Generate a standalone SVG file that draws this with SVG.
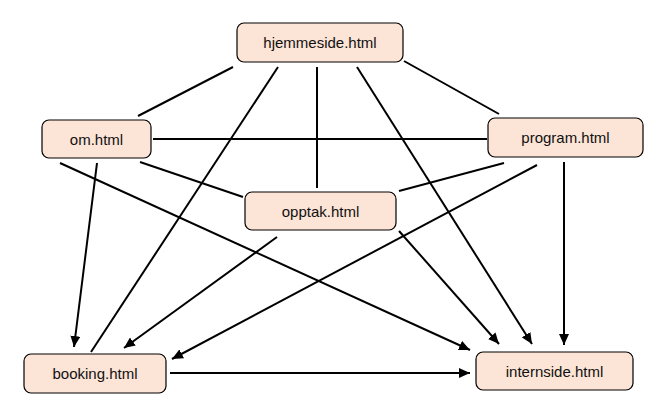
<svg xmlns="http://www.w3.org/2000/svg" width="657" height="412" viewBox="0 0 657 412">
<defs>
<marker id="arr" markerUnits="userSpaceOnUse" markerWidth="12" markerHeight="10" refX="11" refY="5" orient="auto">
<path d="M0,0 L11,5 L0,10 Z" fill="#000"/>
</marker>
<style>
.n rect{fill:#FCE4D6;stroke:#000;stroke-width:1.2}
.n text{font-family:"Liberation Sans",Arial,sans-serif;font-size:15px;fill:#111;text-anchor:middle}
#edges line{stroke:#000;stroke-width:2}
#edges line.a{marker-end:url(#arr)}
</style>
</defs>
<rect width="657" height="412" fill="#fff"/>
<g id="edges">
<line x1="233" y1="67" x2="138" y2="116"/>
<line x1="404" y1="61" x2="499" y2="114"/>
<line x1="278" y1="67" x2="91" y2="352"/>
<line x1="317" y1="67" x2="317" y2="188"/>
<line class="a" x1="357" y1="67" x2="532" y2="344"/>
<line x1="153" y1="139" x2="487" y2="139"/>
<line x1="140" y1="162" x2="243" y2="197"/>
<line class="a" x1="97" y1="163" x2="74" y2="347"/>
<line class="a" x1="60" y1="163" x2="470" y2="350"/>
<line x1="504" y1="163" x2="399" y2="191"/>
<line class="a" x1="537" y1="165" x2="172" y2="359"/>
<line class="a" x1="564" y1="162" x2="564" y2="345"/>
<line class="a" x1="277" y1="237" x2="124" y2="348"/>
<line class="a" x1="399" y1="231" x2="499" y2="344"/>
<line class="a" x1="170" y1="373" x2="470" y2="373"/>
</g>
<g id="hjemmeside" class="n"><rect x="237" y="23" width="166" height="39" rx="7"/><text x="320" y="48">hjemmeside.html</text></g>
<g id="om" class="n"><rect x="42" y="120" width="109" height="38" rx="7"/><text x="96.5" y="144.5">om.html</text></g>
<g id="program" class="n"><rect x="488" y="118" width="155" height="39" rx="7"/><text x="565.5" y="143">program.html</text></g>
<g id="opptak" class="n"><rect x="245" y="192" width="151" height="38" rx="7"/><text x="320.5" y="216.5">opptak.html</text></g>
<g id="booking" class="n"><rect x="24" y="354" width="142" height="39" rx="7"/><text x="95" y="379">booking.html</text></g>
<g id="internside" class="n"><rect x="476" y="352" width="157" height="38" rx="7"/><text x="554.5" y="376.5">internside.html</text></g>
</svg>
